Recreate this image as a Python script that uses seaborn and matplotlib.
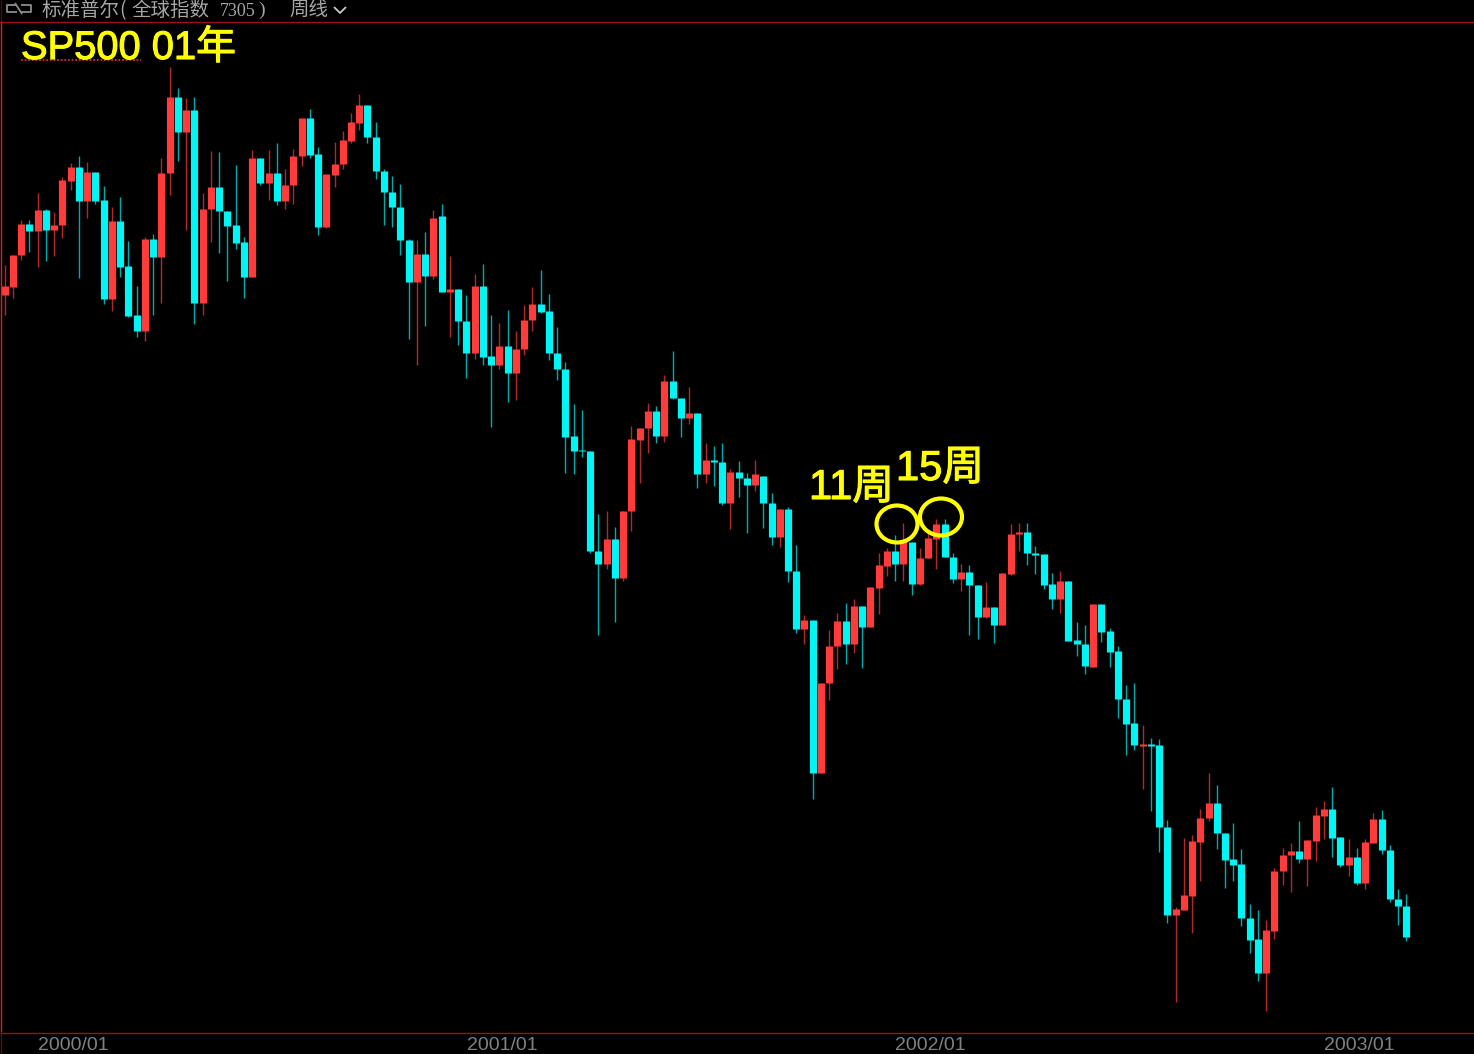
import matplotlib
matplotlib.use("Agg")
import matplotlib.pyplot as plt
import matplotlib.patheffects as pe
from matplotlib.patches import Ellipse
import numpy as np
import pandas as pd
import seaborn as sns

# weekly bars, in chart price units
opens = [1305, 1313, 1345, 1376, 1369, 1390, 1370, 1375, 1419, 1433, 1399, 1428, 1400, 1301, 1379, 1334, 1285, 1269, 1361, 1343,
         1427, 1503, 1468, 1490, 1297, 1391, 1413, 1389, 1375, 1358, 1323, 1442, 1417, 1427, 1399, 1415, 1444, 1482, 1446, 1373,
         1425, 1436, 1459, 1477, 1495, 1463, 1429, 1408, 1393, 1360, 1318, 1346, 1324, 1384, 1308, 1311, 1279, 1247, 1314, 1244,
         1235, 1254, 1227, 1251, 1280, 1296, 1289, 1247, 1231, 1164, 1150, 1149, 1049, 1036, 1061, 1022, 1089, 1160, 1172, 1189,
         1164, 1219, 1202, 1182, 1187, 1126, 1140, 1138, 1097, 1128, 1122, 1115, 1124, 1097, 1063, 1091, 1029, 971, 980, 827,
         917, 954, 979, 956, 994, 973, 1012, 1034, 1049, 1036, 1058, 1016, 1042, 1061, 1076, 1043, 1021, 1028, 1015, 983,
         993, 975, 1026, 1066, 1068, 1047, 1046, 1016, 1001, 1019, 960, 956, 933, 996, 969, 949, 901, 877, 854, 856,
         855, 773, 685, 690, 704, 758, 782, 797, 767, 741, 736, 682, 661, 627, 669, 729, 745, 749, 741, 759,
         784, 791, 763, 735, 743, 717, 757, 781, 750, 701, 694]
closes = [1314, 1345, 1376, 1369, 1390, 1370, 1375, 1420, 1433, 1399, 1428, 1399, 1301, 1379, 1333, 1284, 1269, 1361, 1343, 1427,
          1503, 1468, 1490, 1297, 1391, 1413, 1389, 1374, 1357, 1323, 1442, 1417, 1427, 1399, 1415, 1444, 1482, 1445, 1373, 1426,
          1436, 1460, 1478, 1495, 1463, 1429, 1408, 1393, 1360, 1318, 1346, 1324, 1382, 1308, 1311, 1279, 1247, 1314, 1243, 1235,
          1254, 1227, 1251, 1280, 1296, 1288, 1247, 1231, 1163, 1149, 1149, 1049, 1036, 1061, 1022, 1089, 1161, 1172, 1189, 1164,
          1219, 1202, 1182, 1187, 1126, 1140, 1138, 1097, 1128, 1122, 1115, 1126, 1097, 1063, 1091, 1029, 971, 980, 827, 917,
          954, 979, 956, 994, 973, 1013, 1035, 1049, 1036, 1059, 1016, 1042, 1062, 1076, 1043, 1021, 1028, 1015, 983, 993,
          975, 1027, 1066, 1068, 1047, 1045, 1015, 1001, 1019, 959, 956, 934, 996, 968, 948, 901, 876, 855, 856, 854,
          773, 685, 691, 705, 759, 782, 797, 767, 740, 735, 682, 660, 627, 670, 729, 745, 749, 741, 760, 785,
          791, 762, 735, 743, 717, 758, 781, 750, 701, 694, 663]
highs = [1335, 1345, 1380, 1380, 1407, 1391, 1388, 1423, 1437, 1444, 1438, 1428, 1414, 1393, 1403, 1359, 1314, 1363, 1366, 1442,
         1533, 1512, 1502, 1503, 1407, 1449, 1448, 1389, 1435, 1363, 1450, 1442, 1450, 1457, 1431, 1451, 1482, 1491, 1453, 1426,
         1458, 1469, 1487, 1506, 1495, 1478, 1431, 1424, 1416, 1361, 1360, 1368, 1390, 1396, 1344, 1311, 1305, 1326, 1336, 1285,
         1277, 1290, 1269, 1295, 1313, 1330, 1306, 1273, 1238, 1196, 1190, 1149, 1086, 1089, 1073, 1089, 1174, 1172, 1197, 1194,
         1225, 1249, 1202, 1213, 1187, 1157, 1154, 1157, 1131, 1139, 1127, 1140, 1124, 1107, 1091, 1093, 1055, 985, 980, 917,
         970, 987, 997, 1001, 994, 1013, 1047, 1052, 1065, 1077, 1058, 1052, 1067, 1081, 1081, 1047, 1036, 1035, 1015, 1018,
         993, 1027, 1076, 1077, 1077, 1054, 1046, 1027, 1029, 1019, 978, 975, 996, 996, 972, 954, 915, 917, 875, 862,
         861, 780, 693, 762, 765, 791, 827, 815, 767, 777, 751, 696, 690, 680, 732, 752, 757, 779, 760, 793,
         799, 813, 763, 761, 752, 761, 787, 790, 755, 711, 706]
lows = [1285, 1302, 1340, 1348, 1333, 1339, 1344, 1362, 1410, 1322, 1382, 1396, 1296, 1289, 1323, 1283, 1263, 1259, 1285, 1297,
        1405, 1439, 1370, 1276, 1285, 1358, 1347, 1319, 1351, 1302, 1323, 1415, 1400, 1395, 1391, 1396, 1434, 1442, 1365, 1372,
        1413, 1431, 1457, 1470, 1457, 1421, 1375, 1373, 1345, 1261, 1235, 1274, 1321, 1308, 1263, 1255, 1222, 1241, 1235, 1173,
        1231, 1198, 1200, 1245, 1269, 1287, 1240, 1220, 1127, 1126, 1143, 1047, 965, 1031, 978, 1019, 1069, 1117, 1147, 1157,
        1158, 1201, 1163, 1176, 1112, 1117, 1114, 1095, 1071, 1103, 1067, 1109, 1072, 1055, 1053, 1018, 967, 956, 801, 827,
        900, 931, 936, 947, 932, 973, 986, 1024, 1019, 1019, 1005, 1015, 1042, 1031, 1043, 1017, 1009, 965, 961, 982,
        957, 975, 1025, 1049, 1035, 1026, 1011, 991, 987, 959, 944, 926, 933, 958, 933, 882, 845, 850, 811, 789,
        748, 677, 598, 690, 667, 719, 779, 751, 712, 719, 674, 647, 619, 589, 661, 715, 708, 737, 714, 739,
        761, 743, 733, 724, 715, 711, 757, 746, 698, 675, 659]

tick_weeks = [8.3, 60.3, 112.3, 164.3]
tick_labels = ["2000/01", "2001/01", "2002/01", "2003/01"]

RED = "#ff3b3b"
CYAN = "#00f5f5"
YELLOW = "#ffff00"
LINE_RED = "#a01010"

sns.set_theme(style="dark", rc={
    "axes.facecolor": "black",
    "figure.facecolor": "black",
    "lines.solid_capstyle": "butt",
})
plt.rcParams["font.family"] = ["Liberation Sans", "Noto Sans CJK SC", "DejaVu Sans"]

# long tables, two rows per week, so each bar is one line unit
weeks = np.arange(len(opens))
side = np.where(np.array(closes) >= np.array(opens), "up", "down")
wicks = pd.DataFrame({
    "week": np.r_[weeks, weeks],
    "price": np.r_[lows, highs],
    "side": np.r_[side, side],
})
bodies = pd.DataFrame({
    "week": np.r_[weeks, weeks],
    "price": np.r_[opens, closes],
    "side": np.r_[side, side],
})
palette = {"up": RED, "down": CYAN}

fig = plt.figure(figsize=(14.74, 10.54), dpi=100)
ax = fig.add_axes([0, 22 / 1054, 1, 1010 / 1054])
sns.lineplot(data=wicks, x="week", y="price", hue="side", units="week", estimator=None,
             palette=palette, linewidth=1.0, alpha=0.7, sort=False, legend=False, ax=ax)
sns.lineplot(data=bodies, x="week", y="price", hue="side", units="week", estimator=None,
             palette=palette, linewidth=5.2, sort=False, legend=False, ax=ax)
ax.set_xlim(-0.57, 178.2)
ax.set_ylim(568, 1578)
ax.set(xlabel="", ylabel="", yticks=[])
ax.set_xticks(tick_weeks)
ax.set_xticklabels(tick_labels, fontsize=14, color="#808080")
ax.tick_params(axis="x", length=0, pad=3.5)
ax.grid(False)
sns.despine(ax=ax, left=True, bottom=True)

# overlay in picture units for the header, frame and hand drawn notes
top = fig.add_axes([0, 0, 1, 1], facecolor="none")
top.set_xlim(0, 1474)
top.set_ylim(1054, 0)
top.axis("off")

top.plot([0, 1474], [21.5, 21.5], color=LINE_RED, lw=1)
top.plot([0, 1474], [1032.5, 1032.5], color=LINE_RED, lw=1)
top.plot([0.8, 0.8], [21, 1032], color="#e02020", lw=1)
top.plot([0.8, 0.8], [1033, 1054], color="#601010", lw=1)
top.plot([0.8, 0.8], [0, 21], color="#401010", lw=1)

# link icon
icon = "#8c8c8c"
top.plot([17, 7, 7, 17], [5, 5, 12, 12], color=icon, lw=1.3)
top.plot([21, 31, 31, 21], [5, 5, 12, 12], color=icon, lw=1.3)
top.plot([15, 22], [3, 14], color=icon, lw=1.3)

head = "#a6a6a6"
top.text(41, 10.5, "标准普尔", color=head, fontsize=14, va="center", family="Noto Sans CJK SC")
top.text(119, 10.5, "(", color=head, fontsize=14, va="center", family="Noto Sans CJK SC")
top.text(131, 10.5, "全球指数", color=head, fontsize=14, va="center", family="Noto Sans CJK SC")
top.text(220, 11, "7305", color=head, fontsize=13, va="center", family="Liberation Serif")
top.text(258, 10.5, ")", color=head, fontsize=14, va="center", family="Liberation Serif")
top.text(289, 10.5, "周线", color=head, fontsize=14, va="center", family="Noto Sans CJK SC")
top.plot([334, 340, 346], [7, 13, 7], color="#c8c8c8", lw=1.3)

bold = [pe.withStroke(linewidth=0.8, foreground=YELLOW)]
top.text(21, 48, "SP500 01年", color=YELLOW, fontsize=28.7, va="center", path_effects=bold)
top.text(809, 488, "11周", color=YELLOW, fontsize=30, va="center", path_effects=bold)
top.text(896, 469, "15周", color=YELLOW, fontsize=30, va="center", path_effects=bold)
top.plot([21, 141], [60, 60], color="#d03030", lw=1.3, ls=(0, (1, 1)))

top.add_patch(Ellipse((897, 524), 41, 37, fill=False, edgecolor=YELLOW, lw=3))
top.add_patch(Ellipse((941, 517), 42, 37, fill=False, edgecolor=YELLOW, lw=3))

fig.savefig("out.png", dpi=100, facecolor="black")
